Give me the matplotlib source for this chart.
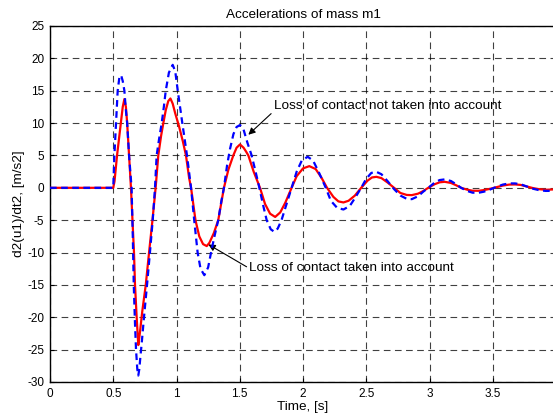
import matplotlib
matplotlib.use('Agg')
import matplotlib.pyplot as plt

plt.rcParams['font.family'] = ['Liberation Sans', 'DejaVu Sans']
plt.rcParams['axes.unicode_minus'] = False

# loss of contact taken into account (red, solid)
t_with = [0.0, 0.50, 0.51, 0.53, 0.56, 0.575, 0.588, 0.60, 0.61, 0.625, 0.64,
          0.652, 0.664, 0.672, 0.685, 0.698, 0.71, 0.73, 0.757, 0.783, 0.81,
          0.835, 0.856, 0.878, 0.896, 0.915, 0.935, 0.952, 0.97, 0.99, 1.02,
          1.05, 1.075, 1.10, 1.115, 1.15, 1.18, 1.21, 1.239, 1.26, 1.295, 1.33,
          1.375, 1.41, 1.449, 1.475, 1.502, 1.53, 1.55, 1.568, 1.61, 1.66, 1.70,
          1.74, 1.78, 1.82, 1.86, 1.91, 1.95, 2.00, 2.05, 2.10, 2.145, 2.19,
          2.24, 2.28, 2.32, 2.36, 2.41, 2.46, 2.51, 2.545, 2.58, 2.62, 2.67,
          2.72, 2.77, 2.82, 2.86, 2.91, 2.95, 2.99, 3.04, 3.08, 3.12, 3.17,
          3.21, 3.25, 3.30, 3.34, 3.386, 3.43, 3.48, 3.53, 3.58, 3.63, 3.676,
          3.72, 3.77, 3.82, 3.87, 3.92, 3.98, 4.00]
a_with = [0.0, 0.0, 1.0, 5.0, 10.0, 12.5, 13.7, 12.5, 10.0, 5.0, 0.0,
          -5.0, -10.0, -15.0, -20.0, -24.3, -22.5, -19.0, -15.0, -10.0, -5.0,
          0.0, 5.0, 8.0, 10.0, 12.0, 13.4, 13.8, 13.0, 11.5, 9.5,
          7.2, 5.0, 1.5, 0.0, -5.0, -7.5, -8.7, -9.0, -8.5, -7.0, -5.0,
          0.0, 2.8, 5.0, 6.2, 6.7, 6.2, 5.6, 5.0, 2.5, 0.0, -2.5,
          -4.0, -4.5, -3.8, -2.3, 0.0, 1.8, 3.0, 3.35, 2.9, 1.6, 0.0,
          -1.4, -2.1, -2.26, -2.0, -1.2, 0.0, 1.1, 1.6, 1.7, 1.5, 0.8,
          0.0, -0.8, -1.1, -1.13, -0.9, -0.5, 0.0, 0.55, 0.85, 0.93, 0.75,
          0.4, 0.0, -0.3, -0.45, -0.46, -0.35, -0.15, 0.1, 0.35, 0.5, 0.52,
          0.45, 0.2, -0.05, -0.22, -0.3, -0.25, -0.2]

# loss of contact not taken into account (blue, dashed)
t_without = [0.0, 0.50, 0.509, 0.522, 0.535, 0.548, 0.562, 0.575, 0.588, 0.60,
             0.61, 0.625, 0.645, 0.655, 0.662, 0.672, 0.68, 0.69, 0.698, 0.706,
             0.715, 0.725, 0.743, 0.767, 0.79, 0.812, 0.83, 0.843, 0.862, 0.883,
             0.90, 0.915, 0.94, 0.97, 0.99, 1.01, 1.046, 1.083, 1.115, 1.14,
             1.167, 1.19, 1.22, 1.25, 1.273, 1.30, 1.33, 1.355, 1.375, 1.40,
             1.423, 1.45, 1.475, 1.502, 1.53, 1.56, 1.594, 1.625, 1.655, 1.685,
             1.713, 1.745, 1.773, 1.80, 1.83, 1.87, 1.91, 1.95, 1.99, 2.037,
             2.08, 2.13, 2.18, 2.22, 2.27, 2.32, 2.37, 2.41, 2.46, 2.50, 2.54,
             2.58, 2.62, 2.67, 2.72, 2.77, 2.82, 2.86, 2.91, 2.95, 2.99, 3.04,
             3.08, 3.12, 3.17, 3.21, 3.25, 3.30, 3.34, 3.386, 3.43, 3.48, 3.53,
             3.58, 3.63, 3.676, 3.72, 3.77, 3.82, 3.87, 3.92, 3.98, 4.00]
a_without = [0.0, 0.0, 5.0, 10.0, 15.0, 17.0, 17.4, 16.5, 15.0, 12.0,
             10.0, 5.0, 0.0, -8.0, -15.0, -21.0, -25.0, -28.0, -29.0, -28.0,
             -26.0, -24.0, -20.0, -15.0, -10.0, -5.0, 0.0, 5.0, 7.5, 10.0,
             12.5, 15.0, 17.8, 19.0, 18.0, 15.0, 10.0, 5.0, 0.0, -5.0,
             -10.0, -12.5, -13.5, -12.3, -10.0, -7.5, -5.0, -2.0, 0.0, 3.5,
             6.0, 8.3, 9.4, 9.7, 9.0, 7.0, 5.0, 2.5, 0.0, -2.7,
             -5.0, -6.4, -6.8, -6.3, -5.0, -2.5, 0.0, 2.5, 4.2, 4.8,
             4.2, 2.2, 0.0, -2.0, -3.1, -3.35, -2.8, -1.6, 0.0, 1.4, 2.3,
             2.47, 2.1, 1.0, -0.2, -1.2, -1.7, -1.75, -1.3, -0.6, 0.0, 0.8,
             1.2, 1.3, 1.05, 0.55, 0.0, -0.5, -0.75, -0.77, -0.6, -0.25, 0.15,
             0.5, 0.68, 0.68, 0.55, 0.2, -0.15, -0.38, -0.48, -0.46, -0.42]

x_ticks = [0, 0.5, 1, 1.5, 2, 2.5, 3, 3.5]
x_tick_labels = ['0', '0.5', '1', '1.5', '2', '2.5', '3', '3.5']
y_ticks = [-30, -25, -20, -15, -10, -5, 0, 5, 10, 15, 20, 25]

tickSize = 8.5
textSize = 9.7

fig = plt.figure(figsize=(5.53, 4.17), dpi=100)
ax = fig.add_axes([50 / 553, 35 / 417, 506 / 553, 356 / 417])

ax.plot(t_with, a_with, color='red', linewidth=1.6, zorder=3)
ax.plot(t_without, a_without, color='blue', linewidth=1.6,
        linestyle=(0, (3, 2)), zorder=4)

ax.set_xlim(0, 4)
ax.set_ylim(-30, 25)
ax.set_xticks(x_ticks)
ax.set_xticklabels(x_tick_labels)
ax.set_yticks(y_ticks)
ax.grid(True, color='black', linestyle=(0, (6, 4)), linewidth=0.8, alpha=0.75)
ax.tick_params(axis='both', direction='in', labelsize=tickSize, length=3, pad=4)
ax.set_axisbelow(True)

for s in ax.spines.values():
    s.set_linewidth(1.0)

ax.set_title('Accelerations of mass m1', fontsize=textSize, pad=6)
ax.set_xlabel('Time, [s]', fontsize=textSize, labelpad=1)
ax.set_ylabel('d2(u1)/dt2, [m/s2]', fontsize=textSize, labelpad=2)

ax.annotate('Loss of contact not taken into account', xy=(1.568, 8.2),
            xytext=(1.77, 12.6), fontsize=textSize, va='center',
            arrowprops=dict(arrowstyle='-|>', color='black', lw=0.8,
                            mutation_scale=10, shrinkA=0, shrinkB=0,
                            relpos=(0.0, 0.1)))
ax.annotate('Loss of contact taken into account', xy=(1.252, -8.75),
            xytext=(1.576, -12.45), fontsize=textSize, va='center',
            arrowprops=dict(arrowstyle='-|>', color='black', lw=0.8,
                            mutation_scale=10, shrinkA=0, shrinkB=0,
                            relpos=(0.0, 0.5)))

fig.savefig('out.png', dpi=100)
